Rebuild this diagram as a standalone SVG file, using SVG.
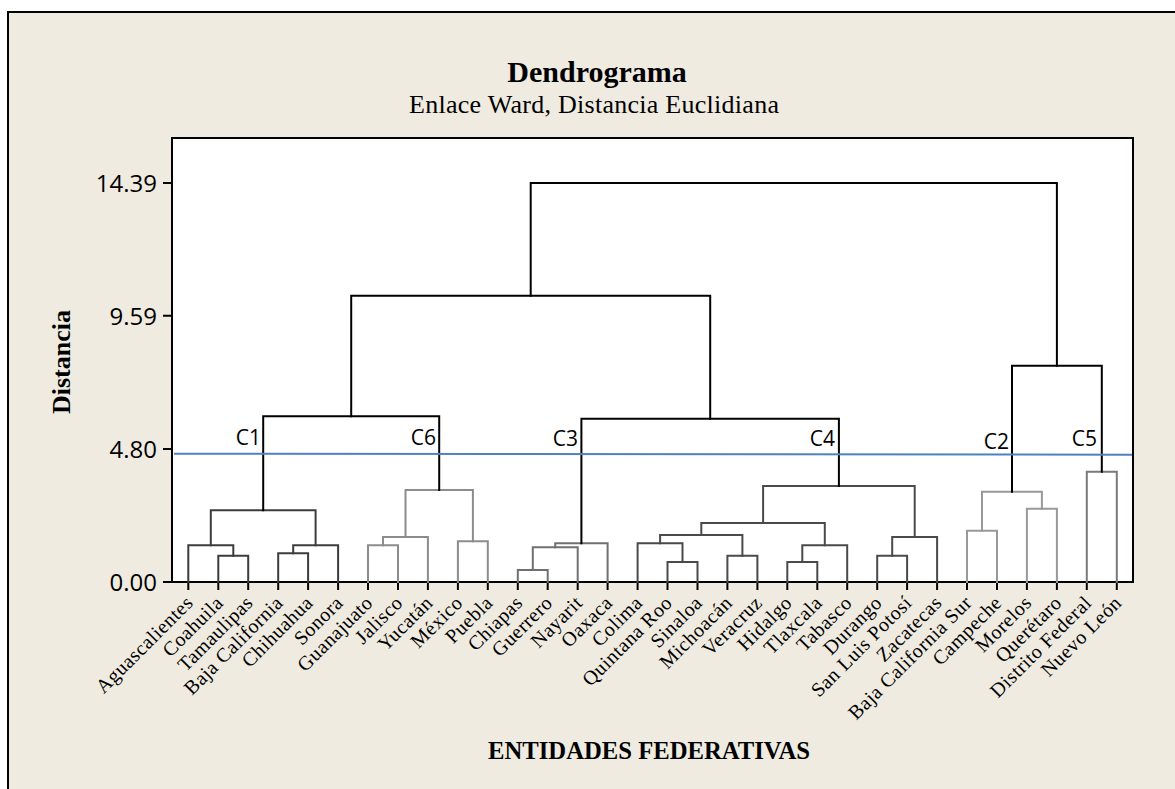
<svg xmlns="http://www.w3.org/2000/svg" width="1175" height="789" viewBox="0 0 1175 789">
  <style>
    .frame { fill: #EFEBE1; stroke: #000; stroke-width: 2; }
    .plot { fill: #FFFFFF; stroke: #000; stroke-width: 2; }
    .tick { stroke: #000; stroke-width: 2; fill: none; }
    .link { fill: none; stroke-width: 2; stroke-linejoin: miter; stroke-linecap: square; }
    .top { stroke: #000; }
    .c1 { stroke: #3C3C3C; }
    .c6 { stroke: #8C8C8C; }
    .c3 { stroke: #707070; }
    .c4 { stroke: #4A4A4A; }
    .c2 { stroke: #999999; }
    .c5 { stroke: #7A7A7A; }
    .cut { stroke: #4F81BD; stroke-width: 2; fill: none; }
    .title { font-family: "Liberation Serif", serif; font-weight: bold; font-size: 30px; fill: #000; }
    .subtitle { font-family: "Liberation Serif", serif; font-size: 26px; fill: #000; }
    .axis-title { font-family: "Liberation Serif", serif; font-weight: bold; font-size: 26px; fill: #000; }
    .ylab { font-family: "Open Sans", "Liberation Sans", sans-serif; font-size: 24px; fill: #000; text-anchor: end; }
    .clab { font-family: "Open Sans", "Liberation Sans", sans-serif; font-size: 21px; fill: #000; text-anchor: end; }
    .leaf { font-family: "Liberation Serif", serif; font-size: 20px; fill: #000; text-anchor: end; letter-spacing: 0.5px; }
  </style>

  <!-- background panel and plot area -->
  <rect class="frame" x="8" y="12" width="1200" height="800"/>
  <rect class="plot" x="172" y="138" width="961" height="444"/>

  <!-- titles -->
  <text class="title" x="597" y="82" text-anchor="middle">Dendrograma</text>
  <text class="subtitle" x="594" y="113" text-anchor="middle" textLength="370">Enlace Ward, Distancia Euclidiana</text>
  <text class="axis-title" transform="translate(70,362) rotate(-90)" text-anchor="middle">Distancia</text>
  <text class="axis-title" x="649" y="759" text-anchor="middle" textLength="322" lengthAdjust="spacingAndGlyphs">ENTIDADES FEDERATIVAS</text>

  <!-- y axis ticks and labels -->
  <g id="y-axis">
    <path class="tick" d="M163 183H172M163 315.7H172M163 449H172M163 582H172"/>
    <text class="ylab" x="157" y="192">14.39</text>
    <text class="ylab" x="157" y="325">9.59</text>
    <text class="ylab" x="157" y="458">4.80</text>
    <text class="ylab" x="157" y="591">0.00</text>
  </g>

  <!-- x axis ticks -->
  <g id="x-ticks">
    <path class="tick" d="M188.3 582V590M218.3 582V590M248.2 582V590M278.2 582V590M308.1 582V590M338.1 582V590M368 582V590M398 582V590M427.9 582V590M457.9 582V590M487.8 582V590M517.8 582V590M547.7 582V590M577.7 582V590M607.6 582V590M637.6 582V590M667.5 582V590M697.5 582V590M727.4 582V590M757.4 582V590M787.3 582V590M817.3 582V590M847.2 582V590M877.2 582V590M907.1 582V590M937.1 582V590M967 582V590M997 582V590M1026.9 582V590M1056.9 582V590M1086.8 582V590M1116.8 582V590"/>
  </g>

  <!-- dendrogram links -->
  <g id="connectors">
    <!-- C1 -->
    <g id="cluster-c1" class="link c1">
      <path d="M218.3 582V555.7H248.2V582"/>
      <path d="M188.3 582V545.3H233.3V555.7"/>
      <path d="M278.2 582V553.3H308.1V582"/>
      <path d="M293.2 553.3V545.3H338.1V582"/>
      <path d="M210.8 545.3V510.3H315.6V545.3"/>
    </g>
    <!-- C6 -->
    <g id="cluster-c6" class="link c6">
      <path d="M368 582V545.3H398V582"/>
      <path d="M383 545.3V537H427.9V582"/>
      <path d="M457.9 582V541.3H487.8V582"/>
      <path d="M405.5 537V490H472.9V541.3"/>
    </g>
    <!-- C3 -->
    <g id="cluster-c3" class="link c3">
      <path d="M517.8 582V570H547.7V582"/>
      <path d="M532.8 570V547.3H577.7V582"/>
      <path d="M555.2 547.3V543.3H607.6V582"/>
    </g>
    <!-- C4 -->
    <g id="cluster-c4" class="link c4">
      <path d="M667.5 582V562H697.5V582"/>
      <path d="M637.6 582V543.3H682.5V562"/>
      <path d="M727.4 582V555.7H757.4V582"/>
      <path d="M660.1 543.3V535H742.4V555.7"/>
      <path d="M787.3 582V562H817.3V582"/>
      <path d="M802.3 562V545.3H847.2V582"/>
      <path d="M701.3 535V523H824.8V545.3"/>
      <path d="M877.2 582V555.7H907.1V582"/>
      <path d="M892.2 555.7V537H937.1V582"/>
      <path d="M763.1 523V486H914.7V537"/>
    </g>
    <!-- C2 -->
    <g id="cluster-c2" class="link c2">
      <path d="M967 582V530.7H997V582"/>
      <path d="M1026.9 582V508.7H1056.9V582"/>
      <path d="M982 530.7V491.7H1041.9V508.7"/>
    </g>
    <!-- C5 -->
    <g id="cluster-c5" class="link c5">
      <path d="M1086.8 582V471.7H1116.8V582"/>
    </g>
    <!-- merges above the cut -->
    <g id="upper-links" class="link top">
      <path d="M263.2 510.3V416.3H439.2V490"/>
      <path d="M581.4 543.3V418.7H838.9V486"/>
      <path d="M351.2 416.3V295.7H710.2V418.7"/>
      <path d="M1012 491.7V365.7H1101.8V471.7"/>
      <path d="M530.7 295.7V183H1056.9V365.7"/>
    </g>
  </g>

  <!-- cut line at distance 4.80 -->
  <path id="cut-line" class="cut" d="M174 453.7L1132 454.7"/>

  <!-- cluster labels -->
  <g id="cluster-labels">
    <text id="lab-c1" class="clab" x="261" y="445">C1</text>
    <text id="lab-c6" class="clab" x="436" y="445">C6</text>
    <text id="lab-c3" class="clab" x="578" y="446">C3</text>
    <text id="lab-c4" class="clab" x="835" y="446">C4</text>
    <text id="lab-c2" class="clab" x="1009" y="449">C2</text>
    <text id="lab-c5" class="clab" x="1097" y="446">C5</text>
  </g>

  <!-- leaf labels -->
  <g id="leaf-labels">
    <text class="leaf" transform="translate(194.3,604) rotate(-45)">Aguascalientes</text>
    <text class="leaf" transform="translate(224.3,604) rotate(-45)">Coahuila</text>
    <text class="leaf" transform="translate(254.2,604) rotate(-45)">Tamaulipas</text>
    <text class="leaf" transform="translate(284.2,604) rotate(-45)">Baja California</text>
    <text class="leaf" transform="translate(314.1,604) rotate(-45)">Chihuahua</text>
    <text class="leaf" transform="translate(344.1,604) rotate(-45)">Sonora</text>
    <text class="leaf" transform="translate(374,604) rotate(-45)">Guanajuato</text>
    <text class="leaf" transform="translate(404,604) rotate(-45)">Jalisco</text>
    <text class="leaf" transform="translate(433.9,604) rotate(-45)">Yucatán</text>
    <text class="leaf" transform="translate(463.9,604) rotate(-45)">México</text>
    <text class="leaf" transform="translate(493.8,604) rotate(-45)">Puebla</text>
    <text class="leaf" transform="translate(523.8,604) rotate(-45)">Chiapas</text>
    <text class="leaf" transform="translate(553.7,604) rotate(-45)">Guerrero</text>
    <text class="leaf" transform="translate(583.7,604) rotate(-45)">Nayarit</text>
    <text class="leaf" transform="translate(613.6,604) rotate(-45)">Oaxaca</text>
    <text class="leaf" transform="translate(643.6,604) rotate(-45)">Colima</text>
    <text class="leaf" transform="translate(673.5,604) rotate(-45)">Quintana Roo</text>
    <text class="leaf" transform="translate(703.5,604) rotate(-45)">Sinaloa</text>
    <text class="leaf" transform="translate(733.4,604) rotate(-45)">Michoacán</text>
    <text class="leaf" transform="translate(763.4,604) rotate(-45)">Veracruz</text>
    <text class="leaf" transform="translate(793.3,604) rotate(-45)">Hidalgo</text>
    <text class="leaf" transform="translate(823.3,604) rotate(-45)">Tlaxcala</text>
    <text class="leaf" transform="translate(853.2,604) rotate(-45)">Tabasco</text>
    <text class="leaf" transform="translate(883.2,604) rotate(-45)">Durango</text>
    <text class="leaf" transform="translate(913.1,604) rotate(-45)">San Luis Potosí</text>
    <text class="leaf" transform="translate(943.1,604) rotate(-45)">Zacatecas</text>
    <text class="leaf" transform="translate(973,604) rotate(-45)">Baja California Sur</text>
    <text class="leaf" transform="translate(1003,604) rotate(-45)">Campeche</text>
    <text class="leaf" transform="translate(1032.9,604) rotate(-45)">Morelos</text>
    <text class="leaf" transform="translate(1062.9,604) rotate(-45)">Querétaro</text>
    <text class="leaf" transform="translate(1092.8,604) rotate(-45)">Distrito Federal</text>
    <text class="leaf" transform="translate(1122.8,604) rotate(-45)">Nuevo León</text>
  </g>
</svg>
